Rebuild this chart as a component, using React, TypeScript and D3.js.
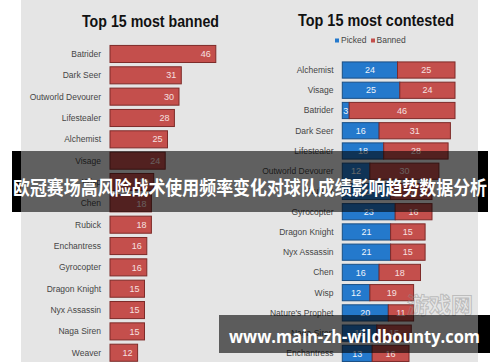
import React from "react";
import * as d3 from "d3";

const leftCats = ["Batrider", "Dark Seer", "Outworld Devourer", "Lifestealer", "Alchemist", "Visage", "Wisp", "Chen", "Rubick", "Enchantress", "Gyrocopter", "Dragon Knight", "Nyx Assassin", "Naga Siren", "Weaver"];
const leftBans = [46, 31, 30, 28, 25, 24, 19, 18, 18, 16, 16, 15, 15, 15, 12];

const rightCats = ["Alchemist", "Visage", "Batrider", "Dark Seer", "Lifestealer", "Outworld Devourer", "Rubick", "Gyrocopter", "Dragon Knight", "Nyx Assassin", "Chen", "Wisp", "Nature's Prophet", "Naga Siren", "Enchantress"];
const rightPicked = [24, 25, 3, 16, 18, 12, 21, 23, 21, 21, 16, 12, 20, 15, 13];
const rightBanned = [25, 24, 46, 31, 28, 30, 18, 16, 15, 15, 18, 19, 11, 15, 16];

const leftTitle = "Top 15 most banned";
const rightTitle = "Top 15 most contested";
const legendLabels = ["Picked", "Banned"];
const bannerText = "欧冠赛场高风险战术使用频率变化对球队成绩影响趋势数据分析";
const urlText = "www.main-zh-wildbounty.com";

const RED = "#c44f4c";
const RED_EDGE = "#7e2b29";
const BLUE = "#2479cc";
const BLUE_EDGE = "#1a4f85";
const FONT = "'Liberation Sans', 'Open Sans', sans-serif";

export default function App() {
  const W = 500, H = 362;
  const xL = d3.scaleLinear().domain([0, 50]).range([110, 225]);
  const yL = d3.scaleBand().domain(leftCats).range([43.3, 43.3 + 15 * 21.34]).paddingInner(0.2).paddingOuter(0.1);
  const xR = d3.scaleLinear().domain([0, 50]).range([342.3, 457.3]);
  const yR = d3.scaleBand().domain(rightCats).range([59.9, 59.9 + 15 * 20.24]).paddingInner(0.2).paddingOuter(0.1);

  return (
    <svg width={W} height={H} style={{ position: "absolute", left: 0, top: 0, display: "block" }}>
      <rect x={0} y={0} width={W} height={H} fill="#ffffff" />
      <rect x={21} y={0} width={457} height={H} fill="#e5e5e5" />

      {/* Left chart */}
      <text x={150.5} y={26.5} textAnchor="middle" fontFamily={FONT} fontWeight="bold" fontSize={16.5} fill="#111" textLength={137} lengthAdjust="spacingAndGlyphs">{leftTitle}</text>
      {leftCats.map((c, i) => {
        const y = yL(c)!;
        const bw = yL.bandwidth();
        const x1 = xL(leftBans[i]);
        return (
          <g key={c}>
            <text x={101} y={y + bw / 2} dy="0.35em" textAnchor="end" fontFamily={FONT} fontSize={8.5} fill="#454545">{c}</text>
            <rect x={xL(0)} y={y} width={x1 - xL(0)} height={bw} fill={RED} stroke={RED_EDGE} strokeWidth={1} />
            <text x={x1 - 5} y={y + bw / 2} dy="0.35em" textAnchor="end" fontFamily={FONT} fontSize={9} fill="#f6e0e0">{leftBans[i]}</text>
          </g>
        );
      })}

      {/* Right chart */}
      <text x={376} y={26} textAnchor="middle" fontFamily={FONT} fontWeight="bold" fontSize={16.5} fill="#111" textLength={156} lengthAdjust="spacingAndGlyphs">{rightTitle}</text>
      <rect x={335} y={38.5} width={4} height={4} fill={BLUE} />
      <text x={341} y={40.5} dy="0.35em" fontFamily={FONT} fontSize={8.5} fill="#454545">{legendLabels[0]}</text>
      <rect x={371} y={38.5} width={4} height={4} fill={RED} />
      <text x={376.5} y={40.5} dy="0.35em" fontFamily={FONT} fontSize={8.5} fill="#454545">{legendLabels[1]}</text>
      {rightCats.map((c, i) => {
        const y = yR(c)!;
        const bw = yR.bandwidth();
        const p = rightPicked[i];
        const b = rightBanned[i];
        const x0 = xR(0), x1 = xR(p), x2 = xR(p + b);
        return (
          <g key={c}>
            <text x={333.5} y={y + bw / 2} dy="0.35em" textAnchor="end" fontFamily={FONT} fontSize={8.5} fill="#454545">{c}</text>
            <rect x={x0} y={y} width={x1 - x0} height={bw} fill={BLUE} stroke={BLUE_EDGE} strokeWidth={1} />
            <rect x={x1} y={y} width={x2 - x1} height={bw} fill={RED} stroke={RED_EDGE} strokeWidth={1} />
            <text x={(x0 + x1) / 2} y={y + bw / 2} dy="0.35em" textAnchor="middle" fontFamily={FONT} fontSize={9} fill="#eef4fb">{p}</text>
            <text x={(x1 + x2) / 2} y={y + bw / 2} dy="0.35em" textAnchor="middle" fontFamily={FONT} fontSize={9} fill="#f6e0e0">{b}</text>
          </g>
        );
      })}

      {/* faint watermark */}
      <text x={440} y={313} textAnchor="middle" fontFamily="'Noto Sans CJK SC', sans-serif" fontWeight="bold" fontSize={22} fill="none" stroke="#8a8a8a" strokeOpacity={0.45} strokeWidth={1}>游戏网</text>

      {/* Top banner */}
      <rect x={12} y={151} width={9} height={61} fill="#000" />
      <rect x={478} y={151} width={10} height={61} fill="#000" />
      <rect x={21} y={151} width={457} height={61} fill="#000" fillOpacity={0.58} />
      <text x={250} y={195} textAnchor="middle" fontFamily="'Noto Sans CJK SC', sans-serif" fontWeight="bold" fontSize={19} fill="#ffffff" textLength={474} lengthAdjust="spacingAndGlyphs">{bannerText}</text>

      {/* Bottom banner */}
      <rect x={478} y={315} width={12} height={38} fill="#000" />
      <rect x={219} y={315} width={259} height={38} fill="#000" fillOpacity={0.6} />
      <text x={354.5} y={343} textAnchor="middle" fontFamily="'Open Sans', sans-serif" fontWeight="bold" fontSize={18} fill="#ffffff" textLength={251} lengthAdjust="spacingAndGlyphs">{urlText}</text>
    </svg>
  );
}
